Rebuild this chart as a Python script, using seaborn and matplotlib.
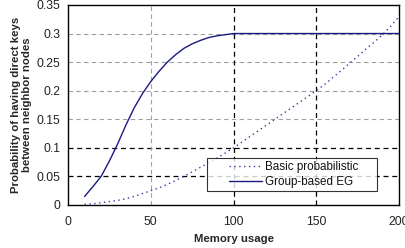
import numpy as np
import pandas as pd
import seaborn as sns
import matplotlib.pyplot as plt
from matplotlib.lines import Line2D
from matplotlib.legend_handler import HandlerLine2D

memory = list(range(10, 205, 5))
basic_prob = [0.001, 0.002, 0.004, 0.006, 0.008, 0.011, 0.015, 0.020, 0.025, 0.030,
              0.036, 0.043, 0.050, 0.058, 0.066, 0.074, 0.082, 0.091, 0.100, 0.110,
              0.120, 0.130, 0.140, 0.150, 0.160, 0.170, 0.180, 0.190, 0.200, 0.211,
              0.223, 0.235, 0.248, 0.260, 0.273, 0.285, 0.298, 0.313, 0.330]
group_eg = [0.015, 0.032, 0.050, 0.077, 0.107, 0.140, 0.170, 0.195, 0.216, 0.234,
            0.250, 0.263, 0.274, 0.282, 0.288, 0.293, 0.296, 0.298, 0.300, 0.300,
            0.300, 0.300, 0.300, 0.300, 0.300, 0.300, 0.300, 0.300, 0.300, 0.300,
            0.300, 0.300, 0.300, 0.300, 0.300, 0.300, 0.300, 0.300, 0.300]
series_names = ["Basic probabilistic", "Group-based EG"]

df = pd.DataFrame({
    "Memory usage": memory * 2,
    "prob": basic_prob + group_eg,
    "scheme": [series_names[0]] * len(memory) + [series_names[1]] * len(memory),
})

sns.set_style("white")
plt.rcParams['font.family'] = ['Liberation Sans', 'DejaVu Sans']

fig = plt.figure(figsize=(4.06, 2.48), dpi=100)
ax = fig.add_axes([0.1675, 0.1734, 0.8155, 0.8066])

# grid: light gray dashes, some lines darker as in the original
for y in [0.15, 0.2, 0.25, 0.3]:
    ax.axhline(y, color="#a0a0a0", lw=0.8, ls=(0, (4, 3)), zorder=1)
for y in [0.05, 0.1]:
    ax.axhline(y, color="black", lw=0.9, ls=(0, (4, 3)), zorder=1)
ax.axvline(50, color="#a0a0a0", lw=0.8, ls=(0, (4, 3)), zorder=1)
for x in [100, 150]:
    ax.axvline(x, color="black", lw=0.9, ls=(0, (4, 3)), zorder=1)

sns.lineplot(data=df, x="Memory usage", y="prob", hue="scheme", style="scheme",
             palette=["#3a3aa8", "#1a1a80"], dashes=[(1, 2.5), ""],
             linewidth=1.0, ax=ax, zorder=3)

ax.set_xlim(0, 200)
ax.set_ylim(0, 0.35)
ax.set_xticks([0, 50, 100, 150, 200])
ax.set_yticks([0, 0.05, 0.1, 0.15, 0.2, 0.25, 0.3, 0.35])
ax.set_yticklabels(["0", "0.05", "0.1", "0.15", "0.2", "0.25", "0.3", "0.35"])
ax.tick_params(labelsize=8.8, length=0, colors="#222222")
ax.tick_params(axis="x", pad=8)
ax.tick_params(axis="y", pad=5.5)
ax.set_xlabel("Memory usage", fontsize=8.2, fontweight="bold", labelpad=4)
ax.set_ylabel("Probability of having direct keys\nbetween neighbor nodes",
              fontsize=8.2, fontweight="bold", labelpad=3.5, linespacing=1.05)
for s in ax.spines.values():
    s.set_color("black")
    s.set_linewidth(1.0)

leg = ax.legend(loc="lower left", bbox_to_anchor=(0.42, 0.07, 0.514, 0.175),
                mode="expand", fontsize=8.4, frameon=True, fancybox=False,
                edgecolor="black", borderpad=0.25, handlelength=4.5,
                handletextpad=0.2, labelspacing=0.25, borderaxespad=0,
                handler_map={Line2D: HandlerLine2D(xpad=1.6)})
leg.get_frame().set_linewidth(0.8)
for t in leg.get_texts():
    t.set_color("#111111")

fig.savefig("out.png", dpi=100)
